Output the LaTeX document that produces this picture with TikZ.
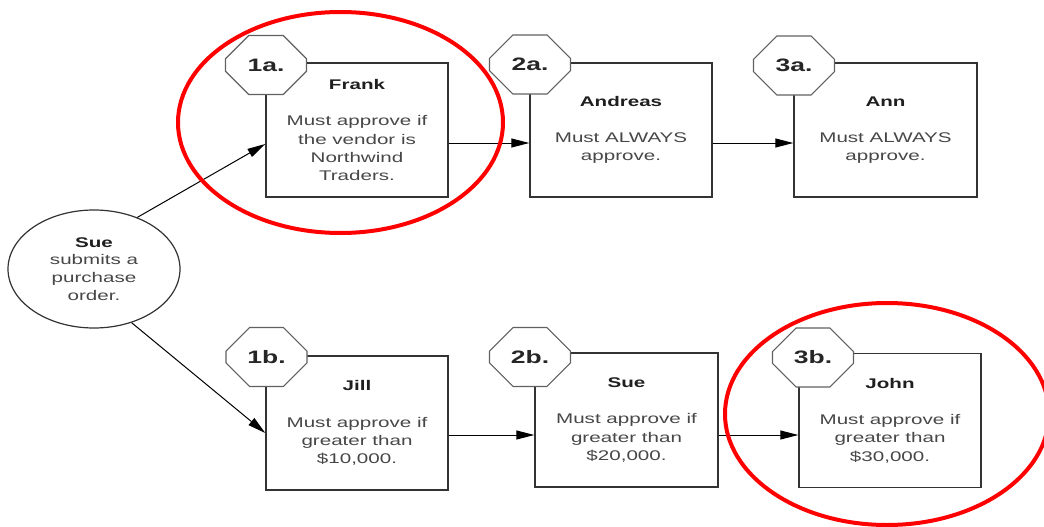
\documentclass[tikz,border=0pt]{standalone}
\usepackage{fontspec}
\setmainfont{Liberation Sans}[FakeStretch=1.47]
\usetikzlibrary{shapes.misc,shapes.geometric,arrows.meta}
\begin{document}
\begin{tikzpicture}[x=1pt,y=-1pt,
  stepbox/.style={draw=black!80, line width=1.4pt, fill=white,
    minimum width=182pt, minimum height=134pt, inner sep=0pt,
    align=center, text=black!72, font=\fontsize{14}{18.3}\selectfont},
  steptag/.style={chamfered rectangle, chamfered rectangle xsep=18pt,
    chamfered rectangle ysep=17pt, draw=black!62, line width=1.2pt,
    fill=white, minimum width=81pt, minimum height=59pt, inner sep=0pt,
    font=\bfseries\fontsize{18}{20}\selectfont, text=black!85},
  startnode/.style={ellipse, draw=black!80, line width=1.2pt, fill=white,
    minimum width=172pt, minimum height=118pt, inner sep=0pt,
    align=center, text=black!72, font=\fontsize{14}{17.7}\selectfont},
  flow/.style={draw=black, line width=1pt, -{Triangle[length=18pt,width=9pt]}},
  highlight/.style={ellipse, draw=red, line width=4pt, inner sep=0pt},
]
\newcommand{\who}[1]{\textbf{\color{black!88}#1}}
\useasboundingbox (0,0) rectangle (1044,527);

% originator
\node[startnode] (sue) at (94,269)
  {\who{Sue}\\submits a\\purchase\\order.};

% upper approval path
\node[stepbox] (frank) at (357,130)
  {\who{Frank}\\[18pt]Must approve if\\the vendor is\\Northwind\\Traders.};
\node[stepbox] (andreas) at (621,130)
  {\who{Andreas}\\[18pt]Must ALWAYS\\approve.};
\node[stepbox, minimum width=183pt] (ann) at (885.5,130)
  {\who{Ann}\\[18pt]Must ALWAYS\\approve.};

% lower approval path
\node[stepbox] (jill) at (357,423)
  {\who{Jill}\\[18pt]Must approve if\\greater than\\\$10,000.};
\node[stepbox, minimum width=183pt] (suetwo) at (626.5,420)
  {\who{Sue}\\[18pt]Must approve if\\greater than\\\$20,000.};
\node[stepbox] (john) at (890,420.5)
  {\who{John}\\[18pt]Must approve if\\greater than\\\$30,000.};

% step numbers
\node[steptag] (t1a) at (266,65) {1a.};
\node[steptag] (t2a) at (530,64.5) {2a.};
\node[steptag] (t3a) at (794,65.5) {3a.};
\node[steptag] (t1b) at (266.5,357) {1b.};
\node[steptag] (t2b) at (530,357) {2b.};
\node[steptag] (t3b) at (813,357.5) {3b.};

% connectors
\draw[flow] (sue.50) -- ([yshift=-14pt]frank.west);
\draw[flow] (sue.-55) -- ([yshift=-10pt]jill.west);
\draw[flow] ([yshift=-13pt]frank.east) -- ([yshift=-13pt]andreas.west);
\draw[flow] ([yshift=-13pt]andreas.east) -- ([yshift=-13pt]ann.west);
\draw[flow] ([yshift=-12pt]jill.east) -- ([yshift=-15pt]suetwo.west);
\draw[flow] ([yshift=-15pt]suetwo.east) -- ([yshift=-14.5pt]john.west);

% highlighted steps
\node[highlight, minimum width=325pt, minimum height=221pt] (markfrank) at (340.5,122.5) {};
\node[highlight, minimum width=324pt, minimum height=222pt] (markjohn) at (887,414) {};
\end{tikzpicture}
\end{document}
